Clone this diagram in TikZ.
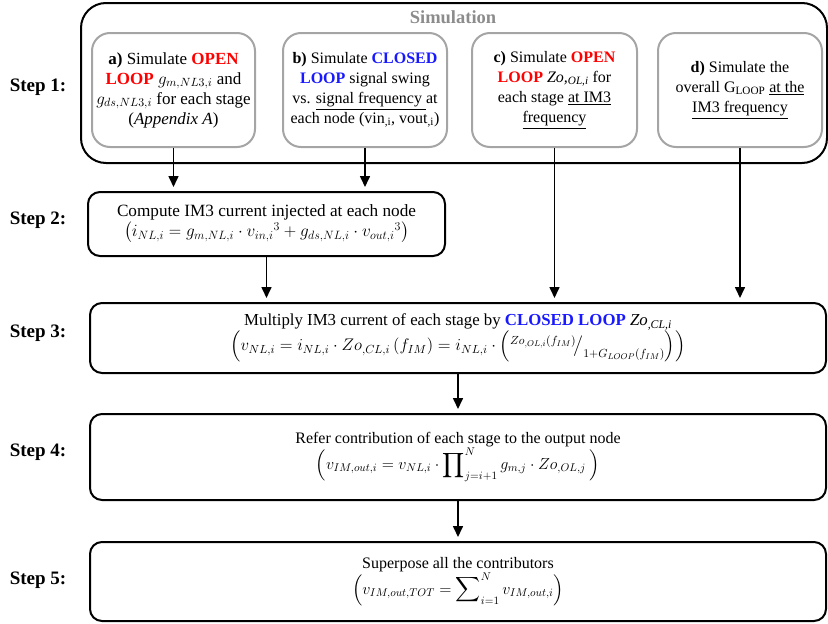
\RequirePackage{fix-cm}
\documentclass[tikz,border=0pt]{standalone}
\usepackage{amsmath}
\usepackage{fontspec}
\setmainfont{Liberation Serif}
\usepackage{tikz}
\usetikzlibrary{positioning}
\usetikzlibrary{arrows.meta}

\definecolor{loopred}{RGB}{255,0,0}
\definecolor{loopblue}{RGB}{25,25,255}
\definecolor{simgray}{RGB}{165,165,165}
\definecolor{titlegray}{RGB}{140,140,140}

\newcommand{\openloop}[1]{\textcolor{loopred}{\textbf{#1}}}
\newcommand{\closedloop}[1]{\textcolor{loopblue}{\textbf{#1}}}

\begin{document}
\begin{tikzpicture}[
            x = 1pt,
            y = -1pt,
            every node/.style = {
                font = \fontsize{16}{20}\selectfont
            },
            simbox/.style = {
                draw = simgray,
                line width = 2pt,
                rounded corners = 18pt,
                minimum width = #1,
                minimum height = 114pt,
                inner sep = 0pt,
                align = center
            },
            simbox/.default = 164pt,
            stepbox/.style = {
                draw,
                line width = 2pt,
                rounded corners = 12pt,
                inner sep = 0pt,
                align = center
            },
            steplabel/.style = {
                font = \fontsize{19}{22}\selectfont\bfseries
            },
            flow/.style = {
                line width = 1.6pt,
                -{Triangle[width=10pt,length=11pt]},
                shorten >= 4pt
            }
            ]
            \useasboundingbox (0,0) rectangle (828,624);

            % Step 1: simulation
            \node[draw, line width = 2pt, rounded corners = 25pt,
                  minimum width = 746pt, minimum height = 160pt] (sim) at (454,83) {};
            \node[font = \fontsize{18.5}{20}\selectfont\bfseries, text = titlegray] (simtitle) at (453,17) {Simulation};

            \node[simbox=163pt, font = \fontsize{17}{20}\selectfont] (a) at (173.5,90) {\textbf{a)} Simulate \openloop{OPEN}\\
                \openloop{LOOP} $g_{m,NL3,i}$ and\\
                $g_{ds,NL3,i}$ for each stage\\
                (\textit{Appendix A})};
            \node[simbox] (b) at (365,90) {\textbf{b)} Simulate \closedloop{CLOSED}\\
                \closedloop{LOOP} signal swing\\
                vs. \underline{signal frequency }at\\
                each node (vin\textsubscript{,i}, vout\textsubscript{,i})};
            \node[simbox=165pt] (c) at (554.5,90) {\textbf{c)} Simulate \openloop{OPEN}\\
                \openloop{LOOP} \textit{Zo,}\textsubscript{\textit{OL,i}} for\\
                each stage \underline{at IM3}\\
                \underline{frequency}};
            \node[simbox] (d) at (740,90) {\textbf{d)} Simulate the\\
                overall G\textsubscript{LOOP} \underline{at the}\\
                \underline{IM3 frequency}};

            % Step 2 .. Step 5
            \node[stepbox, minimum width = 357pt, minimum height = 64pt, font = \fontsize{17.2}{20}\selectfont] (s2) at (266.5,224) {Compute IM3 current injected at each node\\
                $\left(i_{NL,i} = g_{m,NL,i}\cdot {v_{in,i}}^3 + g_{ds,NL,i}\cdot {v_{out,i}}^3\right)$};
            \node[stepbox, minimum width = 736pt, minimum height = 70pt, font = \fontsize{16.8}{20}\selectfont] (s3) at (458,338) {Multiply IM3 current of each stage by \closedloop{CLOSED LOOP} \textit{Zo}\textsubscript{\textit{,CL,i}}\\
                $\left(v_{NL,i} = i_{NL,i}\cdot Zo_{,CL,i}\,(f_{IM}) = i_{NL,i}\cdot\left({}^{Zo_{,OL,i}(f_{IM})}\!\big/_{1+G_{LOOP}(f_{IM})}\right)\right)$};
            \node[stepbox, minimum width = 736pt, minimum height = 86pt] (s4) at (458,457) {Refer contribution of each stage to the output node\\
                $\left(v_{IM,out,i} = v_{NL,i}\cdot\displaystyle\prod\nolimits_{j=i+1}^{N} g_{m,j}\cdot Zo_{,OL,j}\ \right)$};
            \node[stepbox, minimum width = 736pt, minimum height = 79pt] (s5) at (458,581.5) {Superpose all the contributors\\
                $\left(v_{IM,out,TOT} = \displaystyle\sum\nolimits_{i=1}^{N} v_{IM,out,i}\right)$};

            \node[steplabel] (l1) at (38,87) {Step 1:};
            \node[steplabel] (l2) at (38,220) {Step 2:};
            \node[steplabel] (l3) at (38,333) {Step 3:};
            \node[steplabel] (l4) at (38,452) {Step 4:};
            \node[steplabel] (l5) at (38,580) {Step 5:};

            \draw[flow] (a.south) -- (a.south |- s2.north);
            \draw[flow] (b.south) -- (b.south |- s2.north);
            \draw[flow] (c.south) -- (c.south |- s3.north);
            \draw[flow] (d.south) -- (d.south |- s3.north);
            \draw[flow] (s2.south) -- (s2.south |- s3.north);
            \draw[flow] (s3.south) -- (s4.north);
            \draw[flow] (s4.south) -- (s5.north);
        \end{tikzpicture}
\end{document}
